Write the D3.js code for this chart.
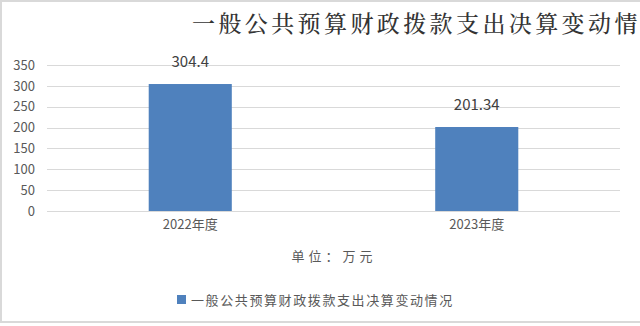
<!DOCTYPE html>
<html>
<head>
<meta charset="utf-8">
<script src="https://cdn.jsdelivr.net/npm/d3@7"></script>
<style>
  body { margin: 0; background: #fff; }
  svg { display: block; }
</style>
</head>
<body>
<div id="chart"></div>
<script>
// chart data
const categories = ["2022年度", "2023年度"];
const values = [304.4, 201.34];
const valueLabels = ["304.4", "201.34"];
const yTicks = [0, 50, 100, 150, 200, 250, 300, 350];
const titleText = "一般公共预算财政拨款支出决算变动情况";
const unitText = "单位：万元";

const width = 640, height = 326;
const margin = {top: 65, right: 20, bottom: 115, left: 47};
const plotW = width - margin.left - margin.right;
const plotH = height - margin.top - margin.bottom;
const font = "'Noto Sans CJK SC', 'Microsoft YaHei', sans-serif";
const textColor = "#595959";

const svg = d3.select("#chart").append("svg")
    .attr("width", width)
    .attr("height", height);

// outer frame (right side is clipped in the original)
svg.append("rect")
    .attr("x", 1).attr("y", 1)
    .attr("width", width + 10).attr("height", height - 5)
    .attr("fill", "#fff")
    .attr("stroke", "#d9d9d9")
    .attr("stroke-width", 2);

// title, runs past the right edge like the original
svg.append("text")
    .attr("x", 192)
    .attr("y", 32)
    .style("font-family", "'Noto Serif CJK SC', 'SimSun', " + font)
    .style("font-size", "23px")
    .style("font-weight", "500")
    .style("letter-spacing", "3.4px")
    .style("fill", "#333")
    .text(titleText);

const g = svg.append("g")
    .attr("transform", "translate(" + margin.left + "," + margin.top + ")");

const xScale = d3.scaleBand()
    .domain(categories)
    .range([0, plotW])
    .paddingInner(0.71)
    .paddingOuter(0.355);

const yScale = d3.scaleLinear()
    .domain([0, 350])
    .range([plotH, 0]);

// gridlines
g.append("g")
    .selectAll("line")
    .data(yTicks)
    .join("line")
    .attr("x1", 0)
    .attr("x2", plotW)
    .attr("y1", d => Math.round(yScale(d)) + 0.5)
    .attr("y2", d => Math.round(yScale(d)) + 0.5)
    .attr("stroke", "#d9d9d9")
    .attr("stroke-width", 1);

// y axis labels
let yAxis = g.append("g")
    .call(d3.axisLeft(yScale).tickValues(yTicks).tickSize(0).tickPadding(12));
yAxis.select(".domain").remove();
yAxis.selectAll("text")
    .style("font-family", font)
    .style("font-size", "13px")
    .style("fill", textColor);

// bars
g.selectAll("rect.bar")
    .data(values)
    .join("rect")
    .attr("class", "bar")
    .attr("x", (d, i) => xScale(categories[i]))
    .attr("y", d => yScale(d))
    .attr("width", xScale.bandwidth())
    .attr("height", d => plotH - yScale(d))
    .attr("fill", "#4f81bd");

// value labels
g.selectAll("text.val")
    .data(values)
    .join("text")
    .attr("class", "val")
    .attr("x", (d, i) => xScale(categories[i]) + xScale.bandwidth() / 2)
    .attr("y", d => yScale(d) - 17)
    .attr("text-anchor", "middle")
    .style("font-family", font)
    .style("font-size", "15px")
    .style("fill", "#404040")
    .text((d, i) => valueLabels[i]);

// x axis labels
let xAxis = g.append("g")
    .attr("transform", "translate(0," + plotH + ")")
    .call(d3.axisBottom(xScale).tickSize(0).tickPadding(9));
xAxis.select(".domain").remove();
xAxis.selectAll("text")
    .style("font-family", font)
    .style("font-size", "13px")
    .style("fill", textColor);

// unit label
svg.append("text")
    .attr("x", 334)
    .attr("y", 261)
    .attr("text-anchor", "middle")
    .style("font-family", font)
    .style("font-size", "13px")
    .style("letter-spacing", "4px")
    .style("fill", textColor)
    .text(unitText);

// legend
svg.append("rect")
    .attr("x", 177).attr("y", 295)
    .attr("width", 9).attr("height", 9)
    .attr("fill", "#4f81bd");
svg.append("text")
    .attr("x", 191)
    .attr("y", 305)
    .style("font-family", font)
    .style("font-size", "13px")
    .style("letter-spacing", "1.6px")
    .style("fill", textColor)
    .text(titleText);
</script>
</body>
</html>
